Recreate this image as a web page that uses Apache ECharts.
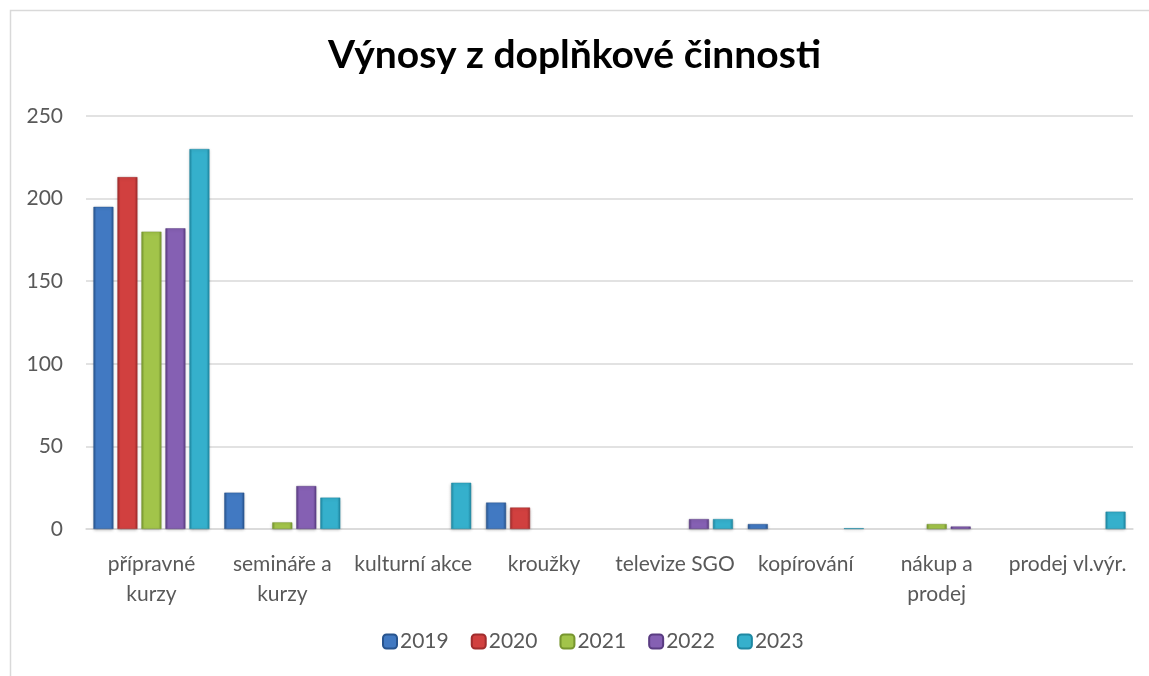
<!DOCTYPE html>
<html>
<head>
<meta charset="utf-8">
<script src="https://cdn.jsdelivr.net/npm/echarts@6/dist/echarts.min.js"></script>
<style>
html,body{margin:0;padding:0;background:#fff;}
#main{width:1149px;height:676px;}
</style>
</head>
<body>
<div id="main"></div>
<script>
var categories = ['přípravné\nkurzy', 'semináře a\nkurzy', 'kulturní akce', 'kroužky', 'televize SGO', 'kopírování', 'nákup a\nprodej', 'prodej vl.výr.'];
var years = ['2019', '2020', '2021', '2022', '2023'];
var v2019 = [195, 22, 0, 16, 0, 3, 0, 0];
var v2020 = [213, 0, 0, 13, 0, 0, 0, 0];
var v2021 = [180, 4, 0, 0, 0, 0, 3, 0];
var v2022 = [182, 26, 0, 0, 6, 0, 1.5, 0];
var v2023 = [230, 19, 28, 0, 6, 0.5, 0, 10.5];
var yearValues = [v2019, v2020, v2021, v2022, v2023];

// barvy: [okraj, stred]
var colors = [
    ['#28548e', '#4179c2'],
    ['#a02c2d', '#d1403f'],
    ['#77962f', '#a2c44a'],
    ['#5a3c82', '#8560b3'],
    ['#1f88a2', '#35b0cc']
];

function barColor(c) {
    return new echarts.graphic.LinearGradient(0, 0, 1, 0, [
        {offset: 0, color: c[0]},
        {offset: 0.15, color: c[1]},
        {offset: 0.85, color: c[1]},
        {offset: 1, color: c[0]}
    ]);
}

var chart = echarts.init(document.getElementById('main'));
var series = [];
for (var i = 0; i < years.length; i++) {
    series.push({
        name: years[i],
        type: 'bar',
        barWidth: 20,
        barGap: '20%',
        data: yearValues[i].map(function (v) { return v === 0 ? null : v; }),
        itemStyle: {
            color: barColor(colors[i]),
            borderColor: colors[i][0],
            borderWidth: 0.5,
            shadowColor: 'rgba(0,0,0,0.25)',
            shadowBlur: 3,
            shadowOffsetY: 1
        }
    });
}

var option = {
    backgroundColor: '#fff',
    animation: false,
    title: {
        text: 'Výnosy z doplňkové činnosti',
        left: 'center',
        top: 31,
        textStyle: {
            fontFamily: 'Lato',
            fontWeight: 'bold',
            fontSize: 39,
            color: '#000'
        }
    },
    graphic: [{
        type: 'rect',
        shape: {x: 10.5, y: 10.5, width: 1200, height: 700},
        style: {fill: 'none', stroke: '#d9d9d9', lineWidth: 1.5},
        silent: true
    }],
    legend: {
        data: years.map(function (y, i) {
            return {name: y, itemStyle: {color: barColor(colors[i])}};
        }),
        bottom: 19,
        left: 377,
        itemWidth: 14,
        itemHeight: 14,
        itemGap: 22,
        textStyle: {fontFamily: 'Lato', fontSize: 21, color: '#595959', padding: [0, 0, 0, -2]}
    },
    grid: {
        left: 86,
        right: 16,
        top: 116,
        bottom: 147,
        containLabel: false
    },
    xAxis: {
        type: 'category',
        data: categories,
        axisLine: {lineStyle: {color: '#d9d9d9', width: 1.5}},
        axisTick: {show: false},
        axisLabel: {
            interval: 0,
            margin: 20,
            fontFamily: 'Lato',
            fontSize: 21,
            lineHeight: 30,
            color: '#595959'
        }
    },
    yAxis: {
        type: 'value',
        min: 0,
        max: 250,
        interval: 50,
        axisLine: {show: false},
        axisTick: {show: false},
        splitLine: {lineStyle: {color: '#d9d9d9', width: 1.5}},
        axisLabel: {
            margin: 23,
            fontFamily: 'Lato',
            fontSize: 21,
            color: '#595959'
        }
    },
    series: series
};
chart.setOption(option);
</script>
</body>
</html>
